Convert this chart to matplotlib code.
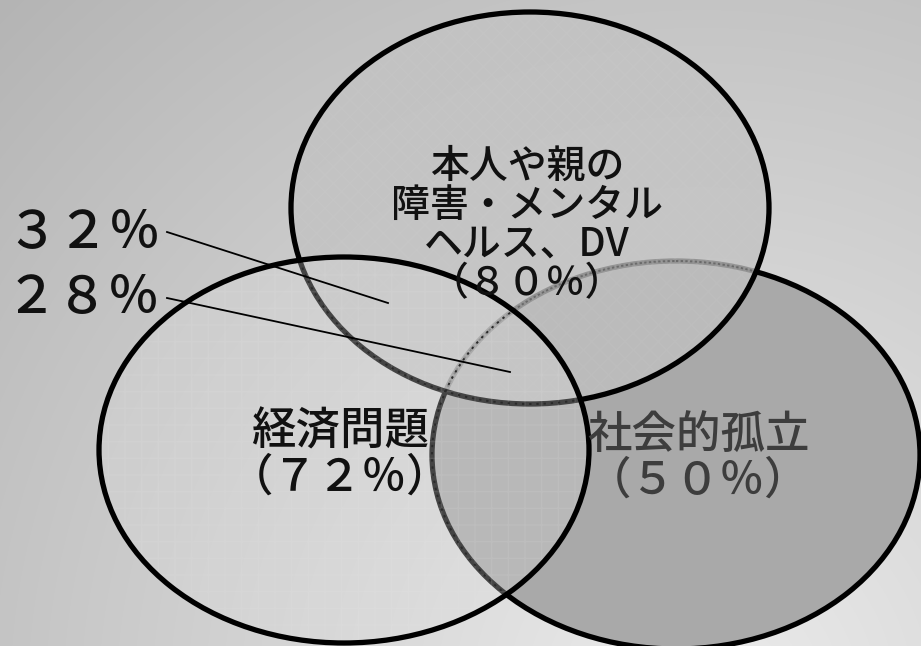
import numpy as np
import matplotlib
matplotlib.use("Agg")
import matplotlib.pyplot as plt
from matplotlib.patches import Ellipse

plt.rcParams['font.family'] = ['Noto Sans CJK JP', 'DejaVu Sans']

# Sets and their shares
set_names = ["本人や親の\n障害・メンタル\nヘルス、DV", "経済問題", "社会的孤立"]
set_pcts = [80, 72, 50]
# Overlap shares shown on the left
overlap_pcts = [32, 28]

FW = str.maketrans("0123456789", "０１２３４５６７８９")


def fw(n):
    return str(n).translate(FW)


W, H = 921, 646
fig = plt.figure(figsize=(W / 100, H / 100), dpi=100)
ax = fig.add_axes([0, 0, 1, 1])
ax.set_xlim(0, W)
ax.set_ylim(H, 0)
ax.axis("off")

# Radial gray backdrop, lighter towards the lower right
yy, xx = np.mgrid[0:H, 0:W]
d = np.hypot(xx - 700, yy - 700)
bg = np.clip(236 - 0.0565 * d, 170, 240) / 255.0
ax.imshow(np.dstack([bg, bg, bg]), extent=(0, W, H, 0), zorder=0, interpolation="bilinear")

LW = 3.8

# geometry: (cx, cy, w, h, angle)
geo_top = (530, 208, 478, 392, 0)
geo_left = (344, 450, 490, 386, 0)
geo_right = (676, 455, 488, 388, 0)

# Social isolation circle (bottom layer)
e_right = Ellipse(geo_right[:2], geo_right[2], geo_right[3], angle=geo_right[4],
                  facecolor="#a9a9a9", edgecolor="black", lw=LW, zorder=1)
ax.add_patch(e_right)

# Disability / mental health circle
e_top = Ellipse(geo_top[:2], geo_top[2], geo_top[3], angle=geo_top[4],
                facecolor="#c2c2c2", alpha=0.76, edgecolor="none", zorder=2)
ax.add_patch(e_top)
tex_top = Ellipse(geo_top[:2], geo_top[2], geo_top[3], angle=geo_top[4],
                  facecolor="none", edgecolor="#d8d8d8", lw=0, hatch="xx", alpha=0.10, zorder=2.1)
ax.add_patch(tex_top)
# dimmed rim of the lower circle seen through the upper one
rim_r = Ellipse(geo_right[:2], geo_right[2], geo_right[3], angle=geo_right[4],
                facecolor="none", edgecolor="#6a6a6a", lw=1.4, ls=(0, (1.2, 1.2)), zorder=2.2)
rim_r.set_clip_path(e_top)
ax.add_patch(rim_r)
ax.add_patch(Ellipse(geo_top[:2], geo_top[2], geo_top[3], angle=geo_top[4],
                     facecolor="none", edgecolor="black", lw=LW, zorder=2.3))

# Economic problems circle (top layer)
e_left = Ellipse(geo_left[:2], geo_left[2], geo_left[3], angle=geo_left[4],
                 facecolor="#dcdcdc", alpha=0.31, edgecolor="none", zorder=3)
ax.add_patch(e_left)
tex_left = Ellipse(geo_left[:2], geo_left[2], geo_left[3], angle=geo_left[4],
                   facecolor="none", edgecolor="#eeeeee", lw=0, hatch="+", alpha=0.10, zorder=3.1)
ax.add_patch(tex_left)
for g in (geo_right, geo_top):
    rim = Ellipse(g[:2], g[2], g[3], angle=g[4], facecolor="none",
                  edgecolor="#2a2a2a", lw=1.4, ls=(0, (1.2, 2.5)), zorder=3.2)
    rim.set_clip_path(e_left)
    ax.add_patch(rim)
ax.add_patch(Ellipse(geo_left[:2], geo_left[2], geo_left[3], angle=geo_left[4],
                     facecolor="none", edgecolor="black", lw=LW, zorder=3.3))

# Labels inside circles
def stack(lines, cx, cy0, step, size, color):
    for i, s in enumerate(lines):
        ax.text(cx, cy0 + i * step, s, ha="center", va="center",
                fontsize=size, color=color, fontweight="medium", zorder=5)

top_lines = set_names[0].split("\n") + ["（" + fw(set_pcts[0]) + "％）"]
stack(top_lines, 527, 167, 39, 28, "#111111")
stack([set_names[1], "（" + fw(set_pcts[1]) + "％）"], 340, 432, 46, 32, "#111111")
stack([set_names[2], "（" + fw(set_pcts[2]) + "％）"], 698, 435, 46, 32, "#3d3d3d")

# Overlap callouts with leader lines
callout_y = [232, 298]
targets = [(388, 303), (510, 372)]
for p, y, (tx, ty) in zip(overlap_pcts, callout_y, targets):
    ax.text(6, y, fw(p) + "％", ha="left", va="center", fontsize=37,
            fontweight="medium", color="#111111", zorder=5)
    ax.plot([167, tx], [y, ty], color="black", lw=1.3, zorder=4)

fig.savefig("out.png", dpi=100)
